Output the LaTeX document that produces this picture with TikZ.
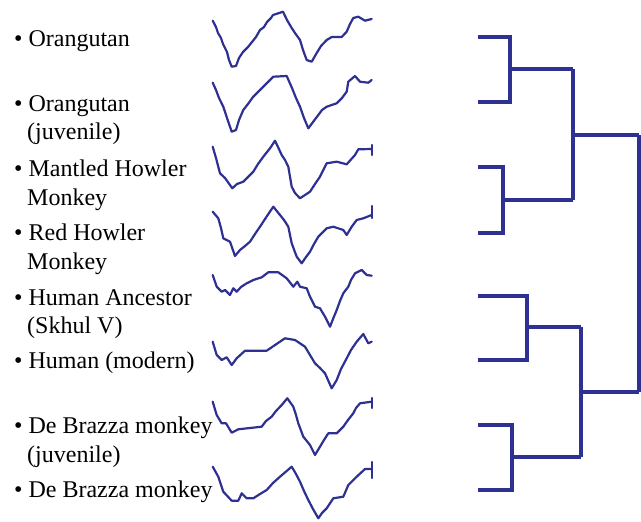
\documentclass[tikz,border=0pt]{standalone}
\usepackage{fontspec}
\setmainfont{Liberation Serif}
\definecolor{navy}{HTML}{2E3192}
\begin{document}
\begin{tikzpicture}[x=1pt,y=-1pt,
  lbl/.style={anchor=base west,inner sep=0pt,font=\fontsize{24}{28}\selectfont},
  wave/.style={draw=navy,line width=2.2pt,line join=round,line cap=round},
  dend/.style={draw=navy,line width=4pt,line join=miter}]
\useasboundingbox (0,0) rectangle (641,522);
% labels
\node[lbl] (t1) at (14,46.5) {• Orangutan};
\node[lbl] (t2) at (14,111.5) {• Orangutan};
\node[lbl] (t2b) at (27,139) {(juvenile)};
\node[lbl] (t3) at (14,176) {• Mantled Howler};
\node[lbl] (t3b) at (27,205) {Monkey};
\node[lbl] (t4) at (14,240) {• Red Howler};
\node[lbl] (t4b) at (27,269.5) {Monkey};
\node[lbl] (t5) at (14,305) {• Human Ancestor};
\node[lbl] (t5b) at (27,333.5) {(Skhul V)};
\node[lbl] (t6) at (14,368) {• Human (modern)};
\node[lbl] (t7) at (14,433.5) {• De Brazza monkey};
\node[lbl] (t7b) at (27,462) {(juvenile)};
\node[lbl] (t8) at (14,497.5) {• De Brazza monkey};
% waveforms
\draw[wave] (212.7,20.7) -- (216,27) -- (218,33) -- (221,38) -- (223,44) -- (227,52) -- (229,60) -- (231.7,66.7) -- (236,66) -- (239,58) -- (243,52) -- (248,47) -- (252,42) -- (256,37) -- (260,30) -- (264,27) -- (267,22) -- (271,18) -- (273,15) -- (283,11.7) -- (287,20) -- (291.7,28) -- (295,33) -- (300,40) -- (303,50) -- (306.7,60) -- (311.7,61.7) -- (316.7,53) -- (321,46) -- (326.7,40) -- (331.7,37) -- (341.7,37) -- (346.7,31.7) -- (350,24) -- (353.3,18) -- (358.3,16.7) -- (365,20.7) -- (371.7,19);
\draw[wave] (212.7,82.7) -- (216,90) -- (219,98) -- (223.3,106.7) -- (227,118) -- (231.7,131.7) -- (236,130) -- (239,120) -- (243.3,110) -- (248,104) -- (253,97) -- (260,90) -- (266,84) -- (273.3,76.7) -- (286.7,76) -- (292,88) -- (296,98) -- (300,106.7) -- (304,118) -- (308.3,128.3) -- (313,122) -- (318.3,115) -- (322,110) -- (326.7,106.7) -- (336.7,103.3) -- (342,98) -- (346.7,91.7) -- (348.3,81.7) -- (355,76) -- (360,81.7) -- (368.3,82.7) -- (371.7,80);
\draw[wave] (212.7,146.7) -- (216,158) -- (220,173.3) -- (225,178) -- (232.3,188.3) -- (237,184) -- (243.3,181.7) -- (248,177) -- (253.3,171.7) -- (258,164) -- (263.3,156.7) -- (270,148.3) -- (275,140.7) -- (278,147) -- (281.7,155) -- (285,160) -- (288.3,166.7) -- (291.7,186.7) -- (295,193) -- (300,198.3) -- (310,191.7) -- (315,184) -- (320,176.7) -- (326.7,163.3) -- (336.7,161.7) -- (346.7,164.3) -- (355,155) -- (358.3,149.3) -- (371.7,149);
\draw[wave] (371.7,145) -- (371.7,155);
\draw[wave] (212.7,211.7) -- (218.3,218.3) -- (221,228) -- (223.3,238.3) -- (230,241.7) -- (235,256) -- (240,250) -- (245,246) -- (250,241.7) -- (255,234) -- (260,226.7) -- (267,216) -- (273.3,206.7) -- (280,215) -- (284,220) -- (288.3,226.7) -- (291.7,243.3) -- (296.7,256.7) -- (301.7,263.3) -- (306,257) -- (310,251.7) -- (314,244) -- (318.3,236.7) -- (326.7,228.3) -- (333.3,226.7) -- (343.3,230) -- (346.7,235) -- (351.7,226.7) -- (356.7,220) -- (363.3,218.3) -- (371.7,215);
\draw[wave] (371.7,206) -- (371.7,218);
\draw[wave] (212.7,275) -- (216.7,286.7) -- (221.7,291.7) -- (225,290) -- (230,295) -- (233.3,288.3) -- (236.7,291.7) -- (241,287) -- (246.7,283.3) -- (253.3,280) -- (261.7,277.3) -- (268.3,272.3) -- (278.3,272.3) -- (286.7,278.3) -- (293.3,286.7) -- (297.3,281.7) -- (300,286.7) -- (306.7,288.3) -- (310,296.7) -- (315,306.7) -- (320,308.3) -- (325,316.7) -- (330,326.7) -- (333.3,318.3) -- (336.7,310) -- (340,301) -- (343.3,293.3) -- (348.3,286.7) -- (351,280) -- (355,273.3) -- (361.7,270) -- (366.7,275) -- (371.7,275.7);
\draw[wave] (212.7,341.7) -- (216.7,355) -- (221.7,360) -- (226.7,357.3) -- (231.7,365) -- (236.7,358.3) -- (245,350.7) -- (266.7,350.7) -- (271.7,347.3) -- (278,343) -- (285,338.3) -- (295,340) -- (305,346.7) -- (310,355) -- (315,363.3) -- (320,368) -- (325,373.3) -- (328,380) -- (331.7,388.3) -- (336.7,380) -- (341,369) -- (346.7,358.3) -- (351,350) -- (356.7,341.7) -- (363.3,334) -- (368.3,343.3) -- (371.7,341.7);
\draw[wave] (212.7,401.7) -- (216.7,415) -- (221.7,423.3) -- (226,423.3) -- (231.7,432.7) -- (238.3,429.3) -- (261.7,426.7) -- (266,421) -- (271.7,416.7) -- (276,411) -- (281.7,405) -- (287.3,398.3) -- (293.3,406.7) -- (296,415) -- (298.3,423.3) -- (303.3,436.7) -- (310,445) -- (315,455) -- (320,446.7) -- (324,440) -- (328.3,433.3) -- (336.7,433.3) -- (343.3,426.7) -- (348,420) -- (353.3,413.3) -- (356,408) -- (360,403.3) -- (371.7,401.7);
\draw[wave] (371.7,398) -- (371.7,408);
\draw[wave] (212.7,466.7) -- (218.3,476.7) -- (223.3,491.7) -- (231.7,500.7) -- (238.3,500.7) -- (241.7,493.3) -- (246.7,498.3) -- (253.3,498.3) -- (260,494) -- (266.7,490) -- (273,483) -- (280,476.7) -- (291.7,466.7) -- (296,474) -- (300,481.7) -- (304,491) -- (308.3,500) -- (313,509) -- (318.3,518.3) -- (322,513) -- (326.7,508.3) -- (333.3,498.3) -- (343.3,496.7) -- (348.3,485) -- (356.7,476.7) -- (365,469) -- (371.7,469);
\draw[wave] (371.7,462) -- (371.7,478);
% dendrogram
\coordinate (l1) at (478,36.5);
\coordinate (l2) at (478,101.5);
\coordinate (l3) at (478,167);
\coordinate (l4) at (478,233);
\coordinate (l5) at (478,296);
\coordinate (l6) at (478,359.5);
\coordinate (l7) at (478,425);
\coordinate (l8) at (478,490);
\draw[dend] (l1) -- (510,36.5) -- (510,101.5) -- (l2);
\draw[dend] (510,69) coordinate (j12) -- (573,69) coordinate (a);
\draw[dend] (l3) -- (503,167) -- (503,233) -- (l4);
\draw[dend] (503,200) coordinate (j34) -- (573,200) coordinate (b);
\draw[dend] (a) -- (b);
\draw[dend] (573,135) coordinate (j14) -- (639,135) coordinate (c);
\draw[dend] (l5) -- (527,296) -- (527,359.5) -- (l6);
\draw[dend] (527,327) coordinate (j56) -- (581,327) coordinate (d);
\draw[dend] (l7) -- (512,425) -- (512,490) -- (l8);
\draw[dend] (512,457) coordinate (j78) -- (581,457) coordinate (e);
\draw[dend] (d) -- (e);
\draw[dend] (581,392) coordinate (j58) -- (639,392) coordinate (f);
\draw[dend] (c) -- (f);
\end{tikzpicture}
\end{document}
